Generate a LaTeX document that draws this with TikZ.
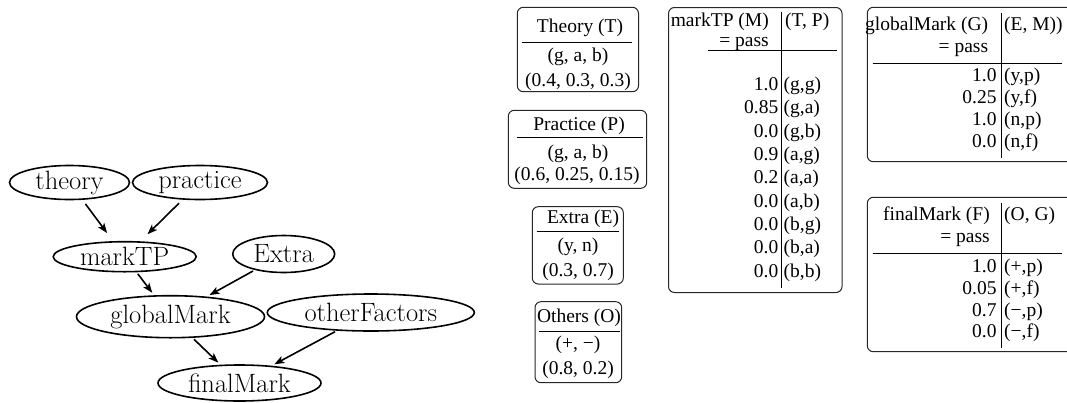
\documentclass[tikz,border=0pt]{standalone}
\usepackage{fontspec}
\newfontfamily\tabfont{Liberation Serif}
\usetikzlibrary{shapes.geometric,arrows.meta}
\tikzset{
  gnode/.style={ellipse, draw, line width=1.6pt, inner sep=0pt, font=\fontsize{26.5}{31}\selectfont},
  garrow/.style={line width=1.6pt, -{Stealth[length=10pt,width=7.5pt,inset=2.5pt]}, shorten <=2pt, shorten >=3pt},
  tbox/.style={draw=black!85, line width=1pt, rounded corners=6pt},
  trule/.style={line width=0.9pt},
  tvline/.style={line width=1.1pt},
  ttext/.style={font=\tabfont\fontsize{19.5}{22}\selectfont, inner sep=0pt},
  tl/.style={ttext, anchor=base west},
  tr/.style={ttext, anchor=base east},
  tc/.style={ttext, anchor=base},
}
\begin{document}
\begin{tikzpicture}[x=1pt,y=-1pt]
\useasboundingbox (0,0) rectangle (1067,402);
\clip (0,0) rectangle (1067,402);
% ---------- graph ----------
\node[gnode, minimum width=120pt, minimum height=34pt] (theory) at (69.5,182.5) {theory};
\node[gnode, minimum width=135pt, minimum height=34pt] (practice) at (200,182.5) {practice};
\node[gnode, minimum width=143pt, minimum height=30pt] (markTP) at (124.7,256.7) {markTP};
\node[gnode, minimum width=102pt, minimum height=37pt] (extra) at (283.7,254) {Extra};
\node[gnode, minimum width=188pt, minimum height=42pt] (globalMark) at (170.5,316.7) {globalMark};
\node[gnode, minimum width=207pt, minimum height=37pt] (otherFactors) at (370.8,312.5) {otherFactors};
\node[gnode, minimum width=163pt, minimum height=36pt] (finalMark) at (239.5,383) {finalMark};
\draw[garrow, shorten <=5pt, shorten >=10pt] (theory) -- (markTP);
\draw[garrow, shorten <=5pt, shorten >=10pt] (practice) -- (markTP);
\draw[garrow] (markTP) -- (globalMark);
\draw[garrow] (extra) -- (globalMark);
\draw[garrow] (globalMark) -- (finalMark);
\draw[garrow] (otherFactors) -- (finalMark);
% ---------- small boxes ----------
% Theory
\draw[tbox] (517.3,7.3) rectangle (638.5,91.7);
\draw[trule] (521.7,42.3) -- (632,42.3);
\node[tc] (thH) at (580,32.5) {Theory (T)};
\node[tc] (thV) at (578,61.5) {(g, a, b)};
\node[tc] (thP) at (578,86) {(0.4, 0.3, 0.3)};
% Practice
\draw[tbox] (508.3,110.3) rectangle (646.7,188.3);
\draw[trule] (517.3,137.3) -- (642.7,137.3);
\node[tc] (prH) at (579,130.5) {Practice (P)};
\node[tc] (prV) at (578,158.5) {(g, a, b)};
\node[tc] (prP) at (577,180.5) {(0.6, 0.25, 0.15)};
% Extra
\draw[tbox] (532.3,206.7) rectangle (623.3,284);
\draw[trule] (536.7,231.7) -- (619.3,231.7);
\node[tc] (exH) at (583,223.8) {Extra (E)};
\node[tc] (exV) at (578,251.5) {(y, n)};
\node[tc] (exP) at (578,276.2) {(0.3, 0.7)};
% Others
\draw[tbox] (535,301.7) rectangle (621.7,382.7);
\draw[trule] (539.3,331.7) -- (620,331.7);
\node[tc] (otH) at (579,322.2) {Others (O)};
\node[tc] (otV) at (578,349.5) {(+, −)};
\node[tc] (otP) at (578,374.5) {(0.8, 0.2)};
% ---------- markTP table ----------
\draw[tbox] (668.5,7.5) rectangle (842,292.5);
\draw[tvline] (781.7,11.7) -- (781.7,288.3);
\draw[trule] (708.3,50.7) -- (837.3,50.7);
\node[tr] (mH1) at (769,26.5) {markTP (M)};
\node[tr] (mH2) at (769,46) {= pass};
\node[tl] (mH3) at (785,26.5) {(T, P)};
\foreach \v/\l/\y [count=\i] in {1.0/(g{,}g)/85, 0.85/(g{,}a)/108.3, 0.0/(g{,}b)/131.7, 0.9/(a{,}g)/155, 0.2/(a{,}a)/178.3, 0.0/(a{,}b)/201.7, 0.0/(b{,}g)/225, 0.0/(b{,}a)/248.3, 0.0/(b{,}b)/271.7}{
  \node[tr] (mv\i) at (778.5,\y+5.5) {\v};
  \node[tl] (ml\i) at (783.5,\y+5.5) {\l};
}
% ---------- globalMark table ----------
\draw[tbox] (867.3,7.3) rectangle (1090,161.7);
\draw[tvline] (1001.7,12.7) -- (1001.7,158.3);
\draw[trule] (872.7,63.3) -- (1061.7,63.3);
\node[tr] (gH1) at (988.3,30.5) {globalMark (G)};
\node[tr] (gH2) at (988.3,52) {= pass};
\node[tl] (gH3) at (1004,30.5) {(E, M))};
\foreach \v/\l/\y [count=\i] in {1.0/(y{,}p)/76, 0.25/(y{,}f)/98, 1.0/(n{,}p)/120, 0.0/(n{,}f)/142}{
  \node[tr] (gv\i) at (996.7,\y+5.5) {\v};
  \node[tl] (gl\i) at (1004,\y+5.5) {\l};
}
% ---------- finalMark table ----------
\draw[tbox] (867.3,197.3) rectangle (1090,351.7);
\draw[tvline] (1001.7,202.7) -- (1001.7,348.3);
\draw[trule] (872.7,253.3) -- (1061.7,253.3);
\node[tr] (fH1) at (990,220.5) {finalMark (F)};
\node[tr] (fH2) at (990,242) {= pass};
\node[tl] (fH3) at (1004,220.5) {(O, G)};
\foreach \v/\l/\y [count=\i] in {1.0/(+{,}p)/267, 0.05/(+{,}f)/289, 0.7/(−{,}p)/310.5, 0.0/(−{,}f)/332}{
  \node[tr] (fv\i) at (996.7,\y+5.5) {\v};
  \node[tl] (fl\i) at (1004,\y+5.5) {\l};
}
\end{tikzpicture}
\end{document}
